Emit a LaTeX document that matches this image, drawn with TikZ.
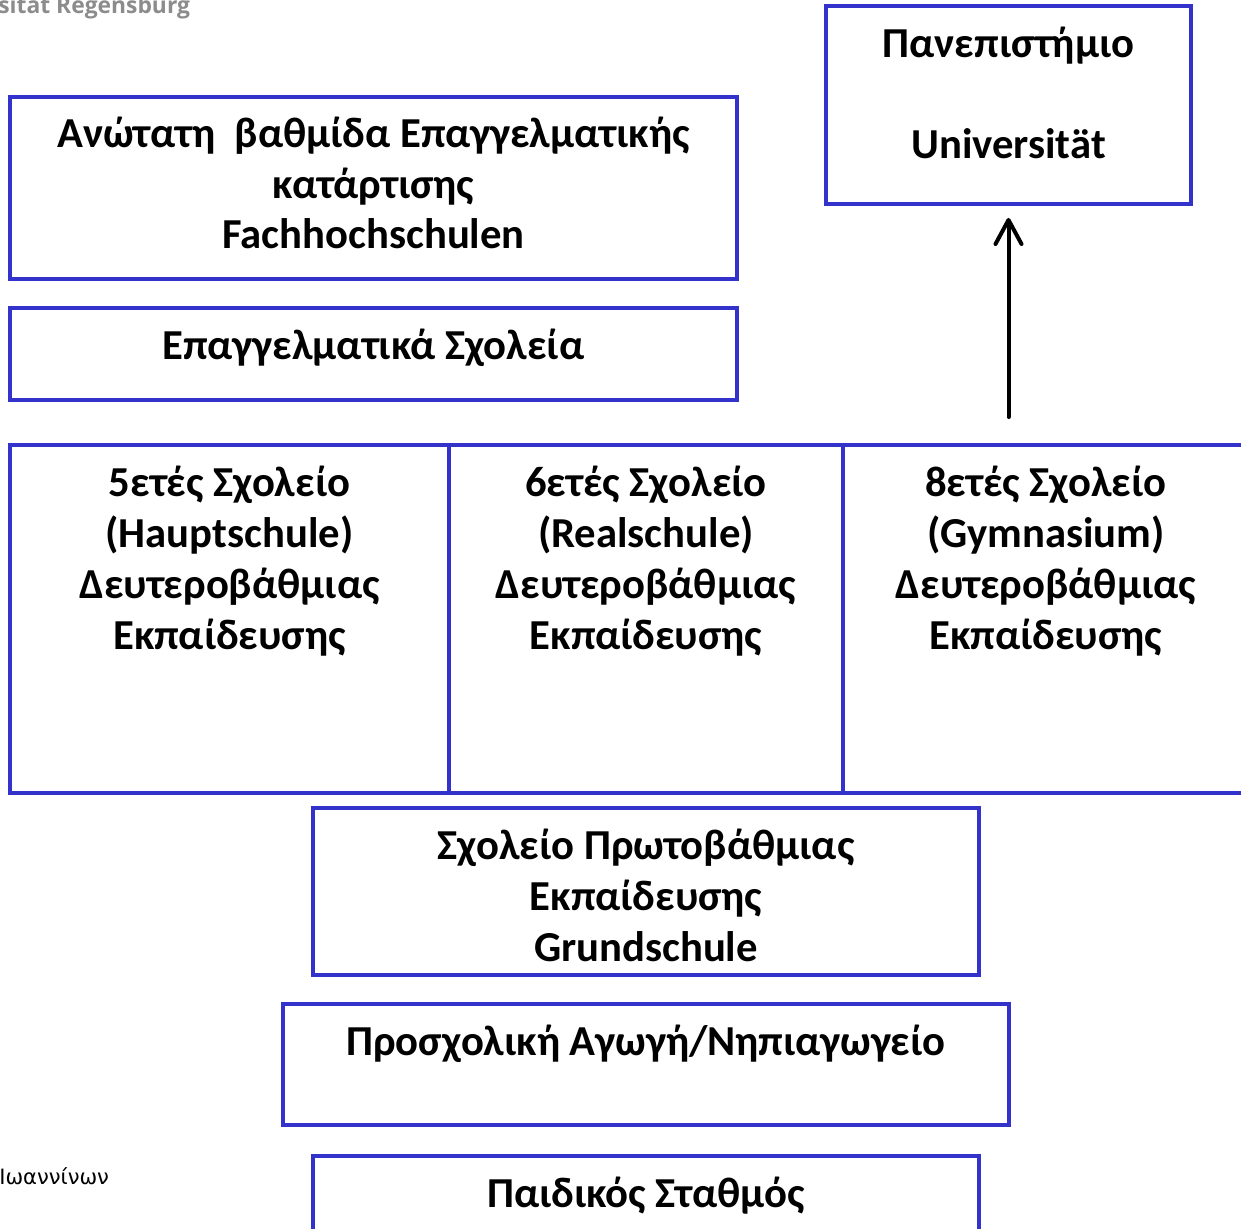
\documentclass[tikz,border=0pt]{standalone}
\usepackage{fontspec}
\setmainfont{Carlito}
\newfontfamily\logofont{Open Sans}
\newfontfamily\footfont{DejaVu Sans}
\usepackage{xcolor}
\usetikzlibrary{positioning,arrows.meta}

\definecolor{boxblue}{HTML}{3333CC}

\begin{document}
\begin{tikzpicture}[x=0.02cm, y=-0.02cm,
      box/.style={rectangle, draw=boxblue, line width=0.08cm, inner sep=0pt, outer sep=0pt},
      txt/.style={align=center, inner sep=0pt, anchor=base, font=\bfseries\fontsize{24.3pt}{29pt}\selectfont},
      arr/.style={-{Straight Barb[length=0.48cm, width=0.52cm, round]}, line width=0.08cm, line cap=round}
      ]
      \useasboundingbox (0,0) rectangle (1241,1228);
      \clip (0,0) rectangle (1241,1228);

      % upper boxes
      \node[box, minimum width=14.54cm, minimum height=3.64cm] (fh) at (373.5,188) {};
      \node[box, minimum width=14.54cm, minimum height=1.84cm] (bs) at (373.5,354) {};
      \node[box, minimum width=7.3cm, minimum height=3.96cm] (uni) at (1008.5,105) {};

      % secondary schools
      \node[box, minimum width=8.78cm, minimum height=6.96cm] (hs) at (229.5,619) {};
      \node[box, minimum width=7.88cm, minimum height=6.96cm, right=0pt of hs] (rs) {};
      \node[box, minimum width=8.2cm, minimum height=6.96cm, right=0pt of rs] (gy) {};

      % lower boxes
      \node[box, minimum width=13.32cm, minimum height=3.34cm] (gs) at (646,891.5) {};
      \node[box, minimum width=14.52cm, minimum height=2.42cm] (ki) at (646,1064.5) {};
      \node[box, minimum width=13.32cm, minimum height=2.08cm] (kt) at (646,1208) {};

      % texts (base = baseline of the last line)
      \node[txt] (fhtxt) at ([yshift=-3.04cm]fh.north) {Ανώτατη~~βαθμίδα Επαγγελματικής\\κατάρτισης\\Fachhochschulen};
      \node[txt] (bstxt) at ([yshift=-1.02cm]bs.north) {Επαγγελματικά Σχολεία};
      \node[txt] (unitxt) at ([yshift=-3.06cm]uni.north) {Πανεπιστήμιο\\[29pt]Universität};
      \node[txt] (hstxt) at ([yshift=-4.08cm]hs.north) {5ετές Σχολείο\\(Hauptschule)\\Δευτεροβάθμιας\\Εκπαίδευσης};
      \node[txt] (rstxt) at ([yshift=-4.08cm]rs.north) {6ετές Σχολείο\\(Realschule)\\Δευτεροβάθμιας\\Εκπαίδευσης};
      \node[txt] (gytxt) at ([xshift=-0.04cm, yshift=-4.08cm]gy.north) {8ετές Σχολείο\\(Gymnasium)\\Δευτεροβάθμιας\\Εκπαίδευσης};
      \node[txt] (gstxt) at ([yshift=-3.06cm]gs.north) {Σχολείο Πρωτοβάθμιας\\Εκπαίδευσης\\Grundschule};
      \node[txt] (kitxt) at ([yshift=-1.02cm]ki.north) {Προσχολική Αγωγή/Νηπιαγωγείο};
      \node[txt] (kttxt) at ([yshift=-1.02cm]kt.north) {Παιδικός Σταθμός};

      % arrow up to the university
      \draw[arr, shorten <=0.56cm, shorten >=0.28cm] (uni.south |- gy.north) -- (uni.south);

      % page remnants
      \node[anchor=base west, inner sep=0pt, text=black!45, font=\logofont\bfseries\fontsize{13pt}{15pt}\selectfont] (logo) at (-2,13) {sitat Regensburg};
      \node[anchor=base west, inner sep=0pt, font=\footfont\fontsize{12pt}{14pt}\selectfont] (foot) at (-1,1184) {Ιωαννίνων};
\end{tikzpicture}
\end{document}
